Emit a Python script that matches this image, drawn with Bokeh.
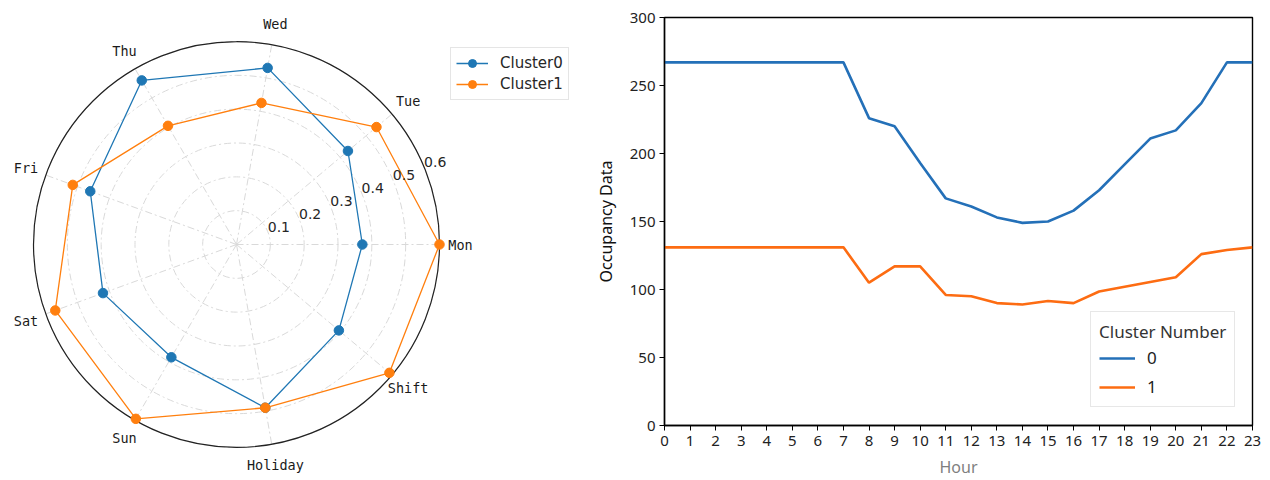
import numpy as np
from bokeh.plotting import figure
from bokeh.models import Range1d, Legend, LegendItem, FixedTicker
from bokeh.layouts import row
from bokeh.embed import file_html
from bokeh.resources import INLINE
from bokeh.core.properties import value

# ---------------- data ----------------
categories = ["Mon", "Tue", "Wed", "Thu", "Fri", "Sat", "Sun", "Holiday", "Shift"]
cluster0 = [0.372, 0.43, 0.53, 0.56, 0.46, 0.42, 0.385, 0.49, 0.395]
cluster1 = [0.60, 0.54, 0.425, 0.405, 0.515, 0.57, 0.595, 0.49, 0.59]
r_ticks = [0.1, 0.2, 0.3, 0.4, 0.5, 0.6]
r_tick_labels = ["0.1", "0.2", "0.3", "0.4", "0.5", "0.6"]
series_names = ["Cluster0", "Cluster1"]

hours = list(range(24))
hour_labels = [str(h) for h in hours]
occ0 = [267, 267, 267, 267, 267, 267, 267, 267, 226, 220, 193, 167, 161, 153, 149, 150,
        158, 173, 192, 211, 217, 237, 267, 267]
occ1 = [131, 131, 131, 131, 131, 131, 131, 131, 105, 117, 117, 96, 95, 90, 89, 91.5,
        90, 98.5, 102, 105.5, 109, 126, 129, 131]
y_ticks = [0, 50, 100, 150, 200, 250, 300]

BLUE = "#1f77b4"
ORANGE = "#ff7f0e"
BLUE2 = "#2470b8"
ORANGE2 = "#fd6c12"

# ---------------- radar (left) ----------------
W1, H1 = 590, 480
rmax = max(max(cluster0), max(cluster1))
s = rmax / 203.0  # data units per pixel
cx_px, cy_px = 236, 244
p1 = figure(width=W1, height=H1, output_backend="svg", toolbar_location=None,
            x_range=Range1d(-cx_px * s, (W1 - cx_px) * s),
            y_range=Range1d(-(H1 - cy_px) * s, cy_px * s),
            x_axis_location=None, y_axis_location=None,
            min_border=0)
p1.frame_align = False
p1.grid.visible = False
p1.outline_line_color = None

n = len(categories)
angles = np.arange(n) * 2 * np.pi / n

grid_col = "#d9d9d9"
# rings
p1.circle(x=[0] * len(r_ticks), y=[0] * len(r_ticks), radius=r_ticks,
          fill_color=None, line_color=grid_col, line_width=1, line_dash="7 3 2 3")
# spokes
p1.segment(x0=[0] * n, y0=[0] * n,
           x1=list(rmax * np.cos(angles)), y1=list(rmax * np.sin(angles)),
           line_color=grid_col, line_width=1, line_dash="7 3 2 3")
# outer circle
p1.circle(x=[0], y=[0], radius=[rmax], fill_color=None, line_color="#222222", line_width=1.2)

renderers = []
for vals, col in ((cluster0, BLUE), (cluster1, ORANGE)):
    v = np.array(vals + [vals[0]])
    a = np.append(angles, angles[0])
    xs = v * np.cos(a)
    ys = v * np.sin(a)
    ln = p1.line(xs, ys, line_color=col, line_width=1.3)
    sc = p1.scatter(xs[:-1], ys[:-1], size=9.5, fill_color=col, line_color=col, marker="circle")
    renderers.append((ln, sc))

# angle labels
lab_r = rmax * 224.0 / 203.0
p1.text(x=list(lab_r * np.cos(angles)), y=list(lab_r * np.sin(angles)), text=categories,
        text_align="center", text_baseline="middle", text_font=value("DejaVu Sans Mono"),
        text_font_size="13.5px", text_color="#1a1a1a")

# radial labels at 22.5 deg
ra = np.deg2rad(22.5)
p1.text(x=[r * np.cos(ra) for r in r_ticks], y=[r * np.sin(ra) for r in r_ticks],
        text=r_tick_labels, text_align="left", text_baseline="bottom",
        text_font=value("DejaVu Sans"), text_font_size="14px", text_color="#262626")

leg1 = Legend(items=[LegendItem(label=series_names[i], renderers=list(renderers[i]))
                     for i in range(2)],
              location=(450, 380), orientation="vertical",
              label_text_font="DejaVu Sans", label_text_font_size="15px",
              label_text_color="#262626",
              glyph_width=32, glyph_height=20, label_height=20, label_standoff=12,
              spacing=1, padding=5, margin=0,
              border_line_color="#cccccc", border_line_width=1,
              background_fill_color="white", background_fill_alpha=1)
p1.add_layout(leg1)

# ---------------- line chart (right) ----------------
W2, H2 = 1270 - W1, 480
p2 = figure(width=W2, height=H2, output_backend="svg", toolbar_location=None,
            x_range=Range1d(0, 23), y_range=Range1d(0, 300),
            min_border_left=74, min_border_right=18, min_border_top=17, min_border_bottom=54)
p2.frame_align = False
p2.grid.visible = False
p2.outline_line_color = "black"
p2.outline_line_width = 1.4

l0 = p2.line(hours, occ0, line_color=BLUE2, line_width=2.6)
l1 = p2.line(hours, occ1, line_color=ORANGE2, line_width=2.6)

p2.xaxis.ticker = FixedTicker(ticks=hours)
p2.yaxis.ticker = FixedTicker(ticks=y_ticks)
p2.xaxis.major_label_overrides = {h: lab for h, lab in zip(hours, hour_labels)}
for ax in (p2.xaxis[0], p2.yaxis[0]):
    ax.minor_tick_line_color = None
    ax.major_tick_in = 0
    ax.major_tick_out = 5
    ax.major_tick_line_color = "black"
    ax.axis_line_color = "black"
    ax.axis_line_width = 1.4
    ax.major_label_text_font = "Noto Sans"
    ax.major_label_text_font_size = "15px"
    ax.major_label_text_color = "#222222"
    ax.axis_label_text_font = "Noto Sans"
    ax.axis_label_text_font_style = "normal"

p2.yaxis.axis_label = "Occupancy Data"
p2.yaxis.axis_label_text_font_size = "16px"
p2.yaxis.axis_label_text_color = "#111111"
p2.yaxis.axis_label_standoff = 10
p2.yaxis.major_label_standoff = 4
p2.xaxis.axis_label = "Hour"
p2.xaxis.axis_label_text_font_size = "16px"
p2.xaxis.axis_label_text_color = "#7f7f7f"
p2.xaxis.axis_label_standoff = 7
p2.xaxis.major_label_standoff = 5

leg2 = Legend(items=[LegendItem(label="0", renderers=[l0]), LegendItem(label="1", renderers=[l1])],
              title="Cluster Number", location=(426, 18),
              title_text_font="Noto Sans", title_text_font_size="17px",
              title_text_font_style="normal", title_text_color="#333333",
              label_text_font="Noto Sans", label_text_font_size="17px", label_text_color="#222222",
              glyph_width=36, glyph_height=20, label_height=20, label_standoff=12,
              spacing=6, padding=8, margin=0, title_standoff=3,
              border_line_color="#d0d0d0", border_line_width=1,
              background_fill_color="white", background_fill_alpha=1)
p2.add_layout(leg2)

layout = row(p1, p2)
open("out.html", "w").write(file_html(layout, INLINE))
